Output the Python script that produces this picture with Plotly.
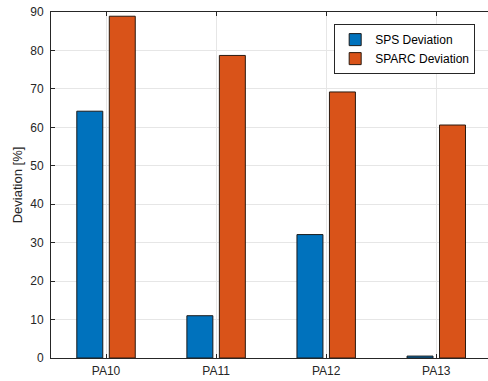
import plotly.graph_objects as go

categories = ["PA10", "PA11", "PA12", "PA13"]
sps_deviation = [64.2, 11.0, 32.1, 0.5]
sparc_deviation = [88.9, 78.7, 69.2, 60.6]
y_ticks = [0, 10, 20, 30, 40, 50, 60, 70, 80, 90]

x_pos = [1, 2, 3, 4]

fig = go.Figure()
fig.add_bar(x=x_pos, y=sps_deviation, name="SPS Deviation",
            marker=dict(color="#0072BD", line=dict(color="#1a1a1a", width=1)))
fig.add_bar(x=x_pos, y=sparc_deviation, name="SPARC Deviation",
            marker=dict(color="#D95319", line=dict(color="#2a1a10", width=1)))

font = "Liberation Sans, Arial, Helvetica, sans-serif"
fig.update_layout(
    width=488, height=381,
    margin=dict(l=51, r=0, t=12, b=23),
    paper_bgcolor="white", plot_bgcolor="white",
    barmode="group", bargap=0.41, bargroupgap=0.2,
    font=dict(family=font, size=12, color="#262626"),
    showlegend=True,
    legend=dict(x=0.648, y=0.965, xanchor="left", yanchor="top",
                bgcolor="white", bordercolor="#262626", borderwidth=1,
                font=dict(size=12, color="#000000"),
                tracegroupgap=0, itemwidth=30),
)
fig.update_xaxes(
    range=[0.5, 4.47], tickvals=x_pos, ticktext=categories,
    showgrid=True, gridcolor="#e6e6e6", gridwidth=1,
    showline=True, linecolor="#262626", linewidth=1, mirror="ticks",
    ticks="inside", ticklen=4, tickcolor="#262626",
    zeroline=False, tickfont=dict(size=12, color="#262626"),
    ticklabelstandoff=2,
)
fig.update_yaxes(
    range=[0, 90], tickvals=y_ticks,
    showgrid=True, gridcolor="#e6e6e6", gridwidth=1,
    showline=True, linecolor="#262626", linewidth=1,
    ticks="inside", ticklen=4, tickcolor="#262626",
    zeroline=False, tickfont=dict(size=12, color="#262626"),
    ticklabelstandoff=4,
    title=dict(text="Deviation [%]", font=dict(size=13, color="#262626"), standoff=4),
)

fig.write_html("out.html", config={"displayModeBar": False},
               post_script="document.body.style.margin='0px';document.body.style.padding='0px';")
